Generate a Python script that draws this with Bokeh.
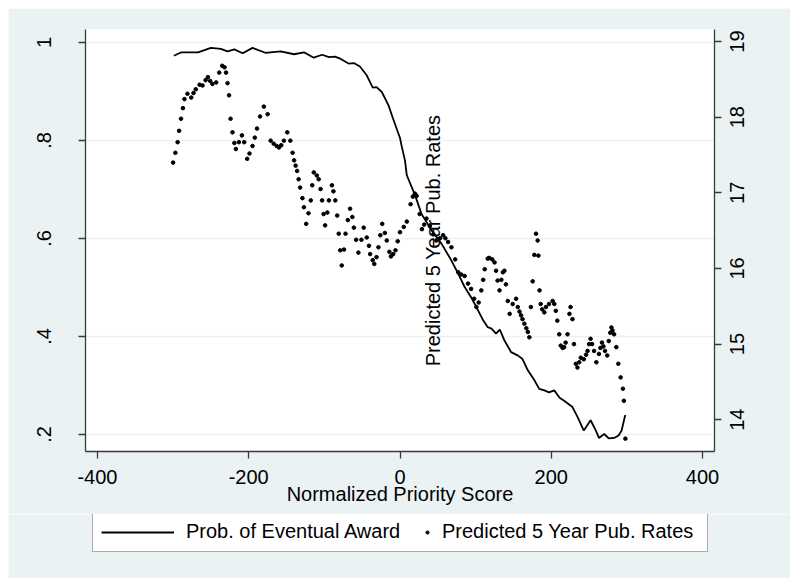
import math
from bokeh.plotting import figure
from bokeh.layouts import column
from bokeh.models import Range1d, LinearAxis, FixedTicker, Legend, LegendItem, Label
from bokeh.embed import file_html
from bokeh.resources import INLINE

# ---- data ----
score_award = [-299, -289, -267, -250, -237, -228, -219, -208, -195, -178, -158, -140,
               -127, -114, -103, -94, -86, -79, -68, -61, -53, -44, -36, -31, -24, -15,
               -9, 0, 2, 6.6, 9, 20, 28.5, 42, 55, 68, 77, 85.5, 94, 101, 110, 116, 121,
               127, 132, 138, 147, 156, 162, 169, 178, 184, 191, 197, 204, 211, 217, 228,
               235, 243, 252, 259, 263, 270, 276, 283, 289, 293, 297, 298]
prob_award = [0.973, 0.980, 0.980, 0.989, 0.987, 0.982, 0.986, 0.978, 0.989, 0.979, 0.982,
              0.976, 0.980, 0.969, 0.975, 0.970, 0.971, 0.967, 0.957, 0.958, 0.951, 0.933,
              0.908, 0.909, 0.899, 0.871, 0.844, 0.805, 0.790, 0.759, 0.729, 0.688, 0.650,
              0.616, 0.589, 0.555, 0.528, 0.501, 0.480, 0.460, 0.433, 0.419, 0.416, 0.406,
              0.414, 0.392, 0.368, 0.361, 0.354, 0.331, 0.310, 0.293, 0.290, 0.286, 0.290,
              0.275, 0.269, 0.256, 0.235, 0.208, 0.229, 0.208, 0.193, 0.201, 0.192, 0.193,
              0.198, 0.208, 0.235, 0.240]

score_pub = [-300, -297, -294, -292, -289.5, -287, -285, -281, -276, -273, -270, -265, -261,
             -257, -254, -251, -248, -243, -239, -235, -232, -230, -228, -226, -224, -221.5,
             -219, -217, -213, -209, -206, -202, -199, -195, -192, -189, -185, -180, -175,
             -171, -167, -163, -160, -157, -153.5, -149, -145, -142, -140, -138, -136, -134,
             -132, -129, -127, -124, -121, -118, -116, -114, -110, -107.5, -105, -103, -101,
             -99, -96, -94, -90, -88, -85.5, -83, -81, -79, -77, -74, -72, -69, -66, -63,
             -61, -58, -55, -51, -48, -44, -41, -39.5, -36, -34, -31, -28.5, -26, -23.5,
             -20, -17.5, -14, -12, -9, -6, -3, 0, 5, 9, 14, 17, 19.7, 22, 26, 29, 32, 35,
             39.5, 44, 48, 53, 57, 60, 63.6, 68, 73, 77, 81, 85.5, 90, 94, 98, 101, 104,
             107.5, 110, 112, 116, 118, 122, 125, 127, 129, 131.6, 134, 136, 138, 140,
             142.5, 145, 149, 153.5, 155.7, 158, 160, 162, 164.5, 167, 169, 171, 173,
             175.4, 177.6, 179.8, 182, 183, 184.5, 186, 188, 190.8, 193, 197, 201.8, 204,
             206, 208, 210.5, 212.5, 215, 217, 219, 221.5, 224, 225.5, 228, 230, 232.5,
             234.6, 237, 239, 243, 246, 248, 250, 252, 254, 256.6, 259.6, 263, 265, 267,
             269, 271, 274, 276, 278, 279.5, 281, 283, 286, 288.6, 291.7, 294.7, 296, 298]
pub_rate = [17.40, 17.53, 17.67, 17.82, 17.98, 18.12, 18.24, 18.31, 18.26, 18.32, 18.37,
            18.43, 18.42, 18.49, 18.53, 18.48, 18.44, 18.46, 18.59, 18.68, 18.66, 18.59,
            18.45, 18.29, 17.98, 17.80, 17.66, 17.58, 17.67, 17.76, 17.67, 17.45, 17.52,
            17.62, 17.73, 17.85, 18.01, 18.14, 18.04, 17.69, 17.65, 17.62, 17.60, 17.63,
            17.69, 17.80, 17.69, 17.53, 17.43, 17.36, 17.29, 17.18, 17.07, 16.93, 16.81,
            16.59, 16.73, 16.90, 17.10, 17.27, 17.23, 17.18, 17.05, 16.90, 16.72, 16.57,
            16.74, 16.90, 17.10, 17.02, 16.90, 16.70, 16.46, 16.24, 16.04, 16.25, 16.46,
            16.64, 16.79, 16.68, 16.54, 16.38, 16.21, 16.38, 16.54, 16.41, 16.30, 16.19,
            16.11, 16.06, 16.15, 16.28, 16.44, 16.59, 16.47, 16.37, 16.22, 16.16, 16.19,
            16.24, 16.36, 16.48, 16.55, 16.62, 16.85, 16.95, 16.99, 16.96, 16.72, 16.52,
            16.58, 16.66, 16.56, 16.45, 16.37, 16.40, 16.44, 16.40, 16.35, 16.28, 16.12,
            15.95, 15.92, 15.90, 15.80, 15.73, 15.60, 15.49, 15.55, 15.71, 15.85, 15.99,
            16.13, 16.14, 16.12, 16.08, 15.97, 15.84, 15.71, 15.85, 15.95, 15.97, 15.79,
            15.57, 15.40, 15.53, 15.60, 15.49, 15.43, 15.38, 15.33, 15.27, 15.21, 15.16,
            15.09, 15.49, 15.83, 16.18, 16.46, 16.37, 16.17, 15.71, 15.53, 15.46, 15.42,
            15.49, 15.53, 15.57, 15.53, 15.44, 15.31, 15.13, 14.98, 14.95, 14.96, 15.02,
            15.13, 15.40, 15.49, 15.33, 15.00, 14.74, 14.69, 14.76, 14.82, 14.80, 14.86,
            14.91, 15.00, 15.07, 15.00, 14.91, 14.76, 14.87, 14.95, 15.02, 14.97, 14.91,
            14.85, 15.04, 15.15, 15.22, 15.18, 15.13, 14.96, 14.74, 14.56, 14.41, 14.25,
            13.75]

x_ticks = [-400, -200, 0, 200, 400]
x_tick_labels = ["-400", "-200", "0", "200", "400"]
left_ticks = [0.2, 0.4, 0.6, 0.8, 1.0]
left_tick_labels = [".2", ".4", ".6", ".8", "1"]
right_ticks = [14, 15, 16, 17, 18, 19]
right_tick_labels = ["14", "15", "16", "17", "18", "19"]

x_title = "Normalized Priority Score"
right_title = "Predicted 5 Year Pub. Rates"
award_label = "Prob. of Eventual Award"
pub_label = "Predicted 5 Year Pub. Rates"

FONT = "Liberation Sans"
FS = "20px"
BG = "#EAF2F3"
AXIS_COLOR = "#3a3a3a"
LINE_W = 1.8
DOT_SIZE = 3.6
NAN = float("nan")

p = figure(width=782, height=506, output_backend="svg", toolbar_location=None,
           x_range=Range1d(-415.8, 415.8), y_range=Range1d(0.1653, 1.0265),
           min_border_left=77, min_border_right=76, min_border_top=21,
           min_border_bottom=63, background_fill_color="white",
           border_fill_color=BG, outline_line_color=None)
p.extra_y_ranges = {"pub": Range1d(13.58, 19.16)}

p.xgrid.visible = False
p.ygrid.grid_line_color = BG
p.ygrid.grid_line_width = 1.5


def style_axis(ax):
    ax.axis_line_color = AXIS_COLOR
    ax.axis_line_width = 1.3
    ax.major_tick_line_color = AXIS_COLOR
    ax.major_tick_line_width = 1.3
    ax.major_tick_in = 0
    ax.major_tick_out = 7
    ax.minor_tick_line_color = None
    ax.major_label_text_font = FONT
    ax.major_label_text_font_size = FS
    ax.major_label_text_color = "black"
    ax.axis_label_text_font = FONT
    ax.axis_label_text_font_size = FS
    ax.axis_label_text_font_style = "normal"
    ax.axis_label_text_color = "black"


xa = p.xaxis[0]
style_axis(xa)
xa.ticker = FixedTicker(ticks=x_ticks)
xa.major_label_overrides = dict(zip(x_ticks, x_tick_labels))
xa.axis_label = x_title
xa.major_label_standoff = 11
xa.axis_label_standoff = -4

ya = p.yaxis[0]
style_axis(ya)
ya.ticker = FixedTicker(ticks=left_ticks)
ya.major_label_overrides = dict(zip(left_ticks, left_tick_labels))
ya.major_label_orientation = "vertical"
ya.major_label_standoff = 27

# right axis: line + ticks
ra = LinearAxis(y_range_name="pub", ticker=FixedTicker(ticks=right_ticks))
style_axis(ra)
ra.major_label_overrides = {t: "" for t in right_ticks}
ra.major_label_standoff = 0
p.add_layout(ra, "right")

# right axis labels, reading bottom-to-top and centred on their ticks
half_label = 11.1 / 75.6   # half a label's length, in axis units
label_pos = [t - half_label for t in right_ticks]
ra_lab = LinearAxis(y_range_name="pub", ticker=FixedTicker(ticks=label_pos))
style_axis(ra_lab)
ra_lab.axis_line_color = None
ra_lab.major_tick_line_color = None
ra_lab.major_tick_out = 0
ra_lab.major_label_overrides = dict(zip(label_pos, right_tick_labels))
ra_lab.major_label_orientation = math.pi / 2
ra_lab.major_label_standoff = 16
p.add_layout(ra_lab, "right")

p.line(score_award, prob_award, line_color="black", line_width=LINE_W)
p.scatter(score_pub, pub_rate, y_range_name="pub", size=DOT_SIZE,
          fill_color="black", line_color="black", marker="circle")

p.add_layout(Label(x=43.4, y=0.596, text=right_title, angle=math.pi / 2,
                   text_align="center", text_baseline="alphabetic",
                   text_font=FONT, text_font_size=FS, text_color="black"))

# ---- legend strip below the chart ----
lf = figure(width=782, height=64, output_backend="svg", toolbar_location=None,
            x_range=Range1d(0, 1), y_range=Range1d(0, 1), min_border=0,
            x_axis_type=None, y_axis_type=None, background_fill_color=BG,
            border_fill_color=BG, outline_line_color=None)
lf.grid.visible = False
key_line = lf.line(x=[NAN], y=[NAN], line_color="black", line_width=LINE_W)
key_dot = lf.scatter(x=[NAN], y=[NAN], size=DOT_SIZE, fill_color="black",
                     line_color="black", marker="circle")

legA = Legend(items=[LegendItem(label=award_label, renderers=[key_line])],
              location=(7, 26), orientation="horizontal", padding=8, margin=0,
              spacing=0, glyph_width=73, glyph_height=20, label_standoff=12,
              label_width=513, label_height=20, border_line_color="#5a5a5a",
              border_line_width=1, background_fill_color="white",
              background_fill_alpha=1, label_text_font=FONT,
              label_text_font_size=FS, label_text_color="black")
legB = Legend(items=[LegendItem(label=pub_label, renderers=[key_dot])],
              location=(338, 35), orientation="horizontal", padding=8, margin=0,
              spacing=0, glyph_width=8, glyph_height=20, label_standoff=11,
              label_height=20, border_line_color=None, background_fill_alpha=0,
              label_text_font=FONT, label_text_font_size=FS, label_text_color="black")
lf.add_layout(legA)
lf.add_layout(legB)

layout = column(p, lf, spacing=0)
layout.margin = (8, 0, 0, 8)

open("out.html", "w").write(file_html(layout, INLINE))
